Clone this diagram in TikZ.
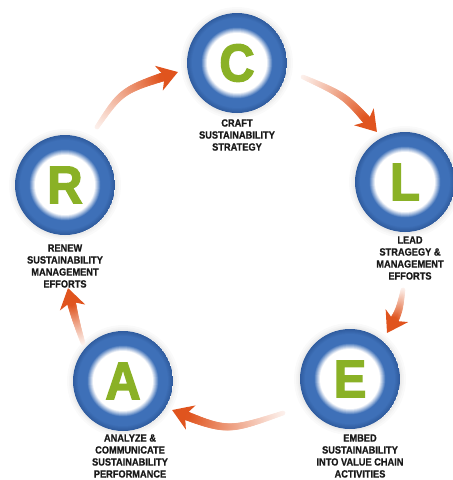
\documentclass[tikz,border=0pt]{standalone}
\usepackage{fontspec}
\usetikzlibrary{decorations.markings,calc}
\newfontfamily\labelfont[FakeStretch=0.88,BoldFeatures={FakeBold=0.8}]{Liberation Sans}
\newfontfamily\letterfont[FakeStretch=0.92,BoldFeatures={FakeBold=2.5}]{Liberation Sans}
\definecolor{ringdark}{RGB}{48,92,158}
\definecolor{ringmid}{RGB}{62,112,184}
\definecolor{lettergreen}{RGB}{138,177,38}
\definecolor{arrowc}{RGB}{224,84,30}
\definecolor{labelc}{RGB}{25,25,25}
\tikzset{
  stage/.style={circle, minimum size=100pt, inner sep=0pt, fill=white,
    font={\letterfont\bfseries\fontsize{53pt}{53pt}\selectfont}, text=lettergreen,
    path picture={
      \foreach \r in {50,49.5,...,28}{
        \ifdim\r pt<36pt
          \pgfmathsetmacro\mixv{max(0,100-(36-\r)*100/6)}
          \colorlet{ringtmp}{ringmid!\mixv!white}
        \else
          \pgfmathsetmacro\mixv{min(100,(50-\r)*100/5)}
          \colorlet{ringtmp}{ringmid!\mixv!ringdark}
        \fi
        \fill[ringtmp] (path picture bounding box.center) circle (\r pt);
      }
    }},
  halo/.style={fill=black, opacity=0.018},
  stagelabel/.style={font={\labelfont\bfseries\fontsize{10.5pt}{12pt}\selectfont},
    text=labelc, align=center, inner sep=0pt},
  flowarrow/.style={decoration={markings,
      mark=between positions 0 and #1 step 1pt with {
        \pgfmathsetmacro\arrt{min(1,\pgfkeysvalueof{/pgf/decoration/mark info/distance from start}/\pgfdecoratedpathlength/#1)}
        \pgfmathsetmacro\arrp{8+92*\arrt^1.1}
        \pgfmathsetmacro\arrw{2.4+2.2*\arrt}
        \fill[arrowc!\arrp!white] (0pt,0pt) circle (\arrw pt);
      },
      mark=at position 1 with {
        \fill[arrowc] (0pt,0pt) -- (-20pt,13pt) -- (-14pt,0pt) -- (-20pt,-13pt) -- cycle;
      }},
    postaction={decorate}}
}
\begin{document}
\begin{tikzpicture}[x=1pt,y=-1pt]
\useasboundingbox (0,0) rectangle (453,480);
% centres
\coordinate (cC) at (237,63);
\coordinate (cL) at (405,182);
\coordinate (cE) at (350,379);
\coordinate (cA) at (123,381);
\coordinate (cR) at (65,185);
% soft halos
\foreach \p in {cC,cL,cE,cA,cR}{
  \foreach \rr in {56,54,52.5,51.5}{
    \fill[halo] (\p) circle (\rr pt);
  }
}
% stages
\node[stage] (C) at (cC) {C};
\node[stage] (L) at (cL) {L};
\node[stage] (E) at (cE) {E};
\node[stage] (A) at (cA) {A};
\node[stage] (R) at (cR) {R};
% labels
\node[stagelabel] (Ct) at (237,135) {CRAFT\\SUSTAINABILITY\\STRATEGY};
\node[stagelabel] (Lt) at (410,258) {LEAD\\STRAGEGY \&\\MANAGEMENT\\EFFORTS};
\node[stagelabel] (Rt) at (65,266) {RENEW\\SUSTAINABILITY\\MANAGEMENT\\EFFORTS};
\node[stagelabel] (At) at (130,456) {ANALYZE \&\\COMMUNICATE\\SUSTAINABILITY\\PERFORMANCE};
\node[stagelabel] (Et) at (360,456) {EMBED\\SUSTAINABILITY\\INTO VALUE CHAIN\\ACTIVITIES};
% arrow end points
\coordinate (rc-s) at ($(R)+(32,-58)$);
\coordinate (rc-k) at (122,90);
\coordinate (rc-e) at ($(C)+(-59,9)$);
\coordinate (cl-s) at ($(C)+(66,14)$);
\coordinate (cl-k) at (346,96);
\coordinate (cl-e) at ($(L)+(-28,-50)$);
\coordinate (le-s) at ($(L)+(-2,108)$);
\coordinate (le-k) at (399,312);
\coordinate (le-e) at ($(E)+(37,-46)$);
\coordinate (ea-s) at ($(E)+(-67,34)$);
\coordinate (ea-k) at (227,432);
\coordinate (ea-e) at ($(A)+(49,29)$);
\coordinate (ar-s) at ($(A)+(-40,-38)$);
\coordinate (ar-k) at (75,318);
\coordinate (ar-e) at ($(R)+(3,103)$);
% arrows
\path[flowarrow=0.86] (rc-s) .. controls (rc-k) .. (rc-e);
\path[flowarrow=0.85] (cl-s) .. controls (cl-k) .. (cl-e);
\path[flowarrow=0.72] (le-s) .. controls (le-k) .. (le-e);
\path[flowarrow=0.88] (ea-s) .. controls (ea-k) .. (ea-e);
\path[flowarrow=0.76] (ar-s) .. controls (ar-k) .. (ar-e);
\end{tikzpicture}
\end{document}
